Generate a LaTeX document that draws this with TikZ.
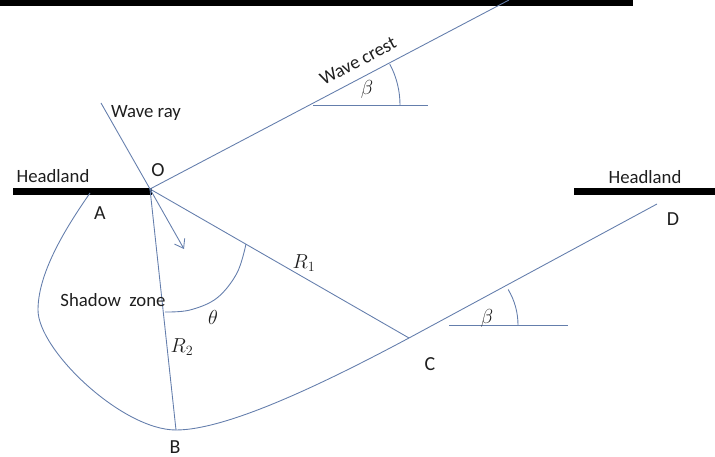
\documentclass[tikz,border=0pt]{standalone}
\usepackage{fontspec}
\setmainfont{Carlito}
\usetikzlibrary{arrows.meta}
\definecolor{lineblue}{RGB}{100,126,172}
\definecolor{txt}{RGB}{30,30,30}
\tikzset{
  thin line/.style={draw=lineblue, line width=0.75pt},
  bar/.style={fill=black},
  lbl/.style={text=txt, inner sep=0pt, font=\fontsize{16}{18}\selectfont},
  pt/.style={text=txt, inner sep=0pt, font=\fontsize{17}{19}\selectfont},
  mth/.style={text=txt, inner sep=0pt, font=\fontsize{17}{19}\selectfont},
}
\begin{document}
\begin{tikzpicture}[x=0.03cm, y=-0.03cm]
\useasboundingbox (0,0) rectangle (715,457);
% bars
\fill[bar] (0,0) rectangle (633,6);
\fill[bar] (13,188) rectangle (152,195);
\fill[bar] (574,188) rectangle (715,195);
% key points
\coordinate (O) at (150,189);
\coordinate (A) at (90,193);
\coordinate (L) at (38,310);
\coordinate (B) at (176,430);
\coordinate (C) at (409,338);
\coordinate (D) at (657,204);
\coordinate (crestend) at (509,0);
\coordinate (raystart) at (101,103);
\coordinate (arrowtip) at (184,249);
\coordinate (b1) at (313,105);
\coordinate (b1e) at (428,105);
\coordinate (b2) at (449,325);
\coordinate (b2e) at (568,325);
% lines
\draw[thin line] (O) -- (crestend);
\draw[thin line] (raystart) -- (O);
\draw[thin line, -{Straight Barb[length=7pt,width=10pt]}] (O) -- (arrowtip);
\draw[thin line] (O) -- (C);
\draw[thin line] (O) -- (B);
% coast curve
\draw[thin line] (A) .. controls (70,222) and (38,270) .. (L)
  .. controls (38,350) and (122,430) .. (B)
  .. controls (230,430) and (334,378) .. (C) -- (D);
% beta angles
\draw[thin line] (b1) -- (b1e);
\draw[thin line] ([shift={(0:87)}]b1) arc[start angle=0, end angle=-28, radius=87];
\draw[thin line] (b2) -- (b2e);
\draw[thin line] ([shift={(0:69)}]b2) arc[start angle=0, end angle=-31, radius=69];
% theta arc
\draw[thin line] plot[smooth, tension=0.6] coordinates {(246,244) (237,273) (217,298) (190,310) (165,312)};
% labels
\node[lbl, rotate=27.8] (lcrest) at (358,61) {Wave crest};
\node[mth] (lbeta1) at (367,89) {$\beta$};
\node[lbl] (lray) at (146,113) {Wave ray};
\node[pt] (lO) at (158,170) {O};
\node[lbl] (lhl) at (53,176) {Headland};
\node[pt] (lA) at (100,213) {A};
\node[lbl] (lhr) at (645,177) {Headland};
\node[pt] (lD) at (673,219) {D};
\node[pt] (lC) at (430,364) {C};
\node[mth] (lbeta2) at (487,318) {$\beta$};
\node[mth] (lR1) at (304,263) {$R_1$};
\node[mth] (ltheta) at (213,317) {$\theta$};
\node[mth] (lR2) at (182,347) {$R_2$};
\node[lbl] (lshadow) at (113,300) {Shadow\ \ zone};
\node[pt] (lB) at (175,447) {B};
\end{tikzpicture}
\end{document}
